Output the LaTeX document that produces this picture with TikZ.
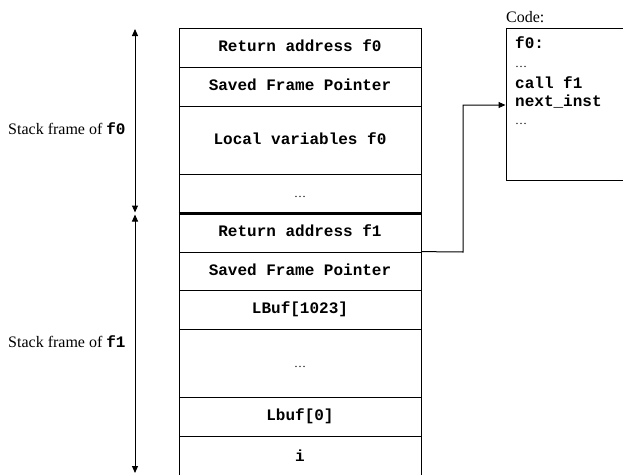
\documentclass[tikz,border=0pt]{standalone}
\usepackage{fontspec}
\setmainfont{Liberation Serif}
\setmonofont{Liberation Mono}
\usetikzlibrary{arrows.meta}
\begin{document}
\begin{tikzpicture}[x=1pt,y=-1pt,
  cell/.style={draw, line width=0.8pt, rectangle, minimum width=242pt, inner sep=0pt,
    font=\fontsize{16}{19}\selectfont\ttfamily\bfseries, text height=11pt, text depth=3pt},
  dotcell/.style={cell, font=\fontsize{12}{14}\selectfont\rmfamily},
  codetxt/.style={anchor=base west, inner sep=0pt, font=\fontsize{16}{19}\selectfont\ttfamily\bfseries},
  codedots/.style={anchor=base west, inner sep=0pt, font=\fontsize{12}{14}\selectfont\rmfamily},
  lbl/.style={anchor=base west, inner sep=0pt, font=\fontsize{16}{19}\selectfont\rmfamily},
  tip/.style={-{Triangle[length=7pt,width=6pt]}, line width=1pt}]
\useasboundingbox (0,0) rectangle (623,474);
% stack cells
\node[cell, minimum height=39pt] (r1) at (300,47.5) {Return address f0};
\node[cell, minimum height=39pt] (r2) at (300,86.5) {Saved Frame Pointer};
\node[cell, minimum height=68pt] (r3) at (300,140) {Local variables f0};
\node[dotcell, minimum height=39pt] (r4) at (300,193.5) {\ldots};
\node[cell, minimum height=39pt] (r5) at (300,232.5) {Return address f1};
\node[cell, minimum height=38pt] (r6) at (300,271) {Saved Frame Pointer};
\node[cell, minimum height=39pt] (r7) at (300,309.5) {LBuf[1023]};
\node[dotcell, minimum height=68pt] (r8) at (300,363) {\ldots};
\node[cell, minimum height=39pt] (r9) at (300,416.5) {Lbuf[0]};
\node[cell, minimum height=42pt] (r10) at (300,457) {i};
\draw[line width=2.2pt] (r4.south west) -- (r4.south east);
% frame arrows
\coordinate (a0) at (135,29);
\coordinate (a1) at (135,212.5);
\coordinate (a2) at (135,214.5);
\coordinate (a3) at (135,473);
\draw[tip, {Triangle[length=7pt,width=6pt]}-{Triangle[length=7pt,width=6pt]}] (a0) -- (a1);
\draw[tip, {Triangle[length=7pt,width=6pt]}-{Triangle[length=7pt,width=6pt]}] (a2) -- (a3);
\node[lbl] (l0) at (8,134) {Stack frame of \texttt{\bfseries f0}};
\node[lbl] (l1) at (8,347) {Stack frame of \texttt{\bfseries f1}};
% code box
\node[draw, line width=0.8pt, rectangle, minimum width=160pt, minimum height=152pt, inner sep=0pt, anchor=north west] (code) at (505.5,28) {};
\node[lbl] (codelbl) at (506,22) {Code:};
\node[codetxt] (c1) at (515,48) {f0:};
\node[codedots] (c2) at (515,67) {\ldots};
\node[codetxt] (c3) at (515,88) {call f1};
\node[codetxt] (c4) at (515,106) {next\_inst};
\node[codedots] (c5) at (515,124) {\ldots};
% connector
\coordinate (bend) at (463,252);
\coordinate (cin) at (code.west |- 0,105);
\draw[tip] (r6.north east) -- (bend) |- (cin);
\end{tikzpicture}
\end{document}
